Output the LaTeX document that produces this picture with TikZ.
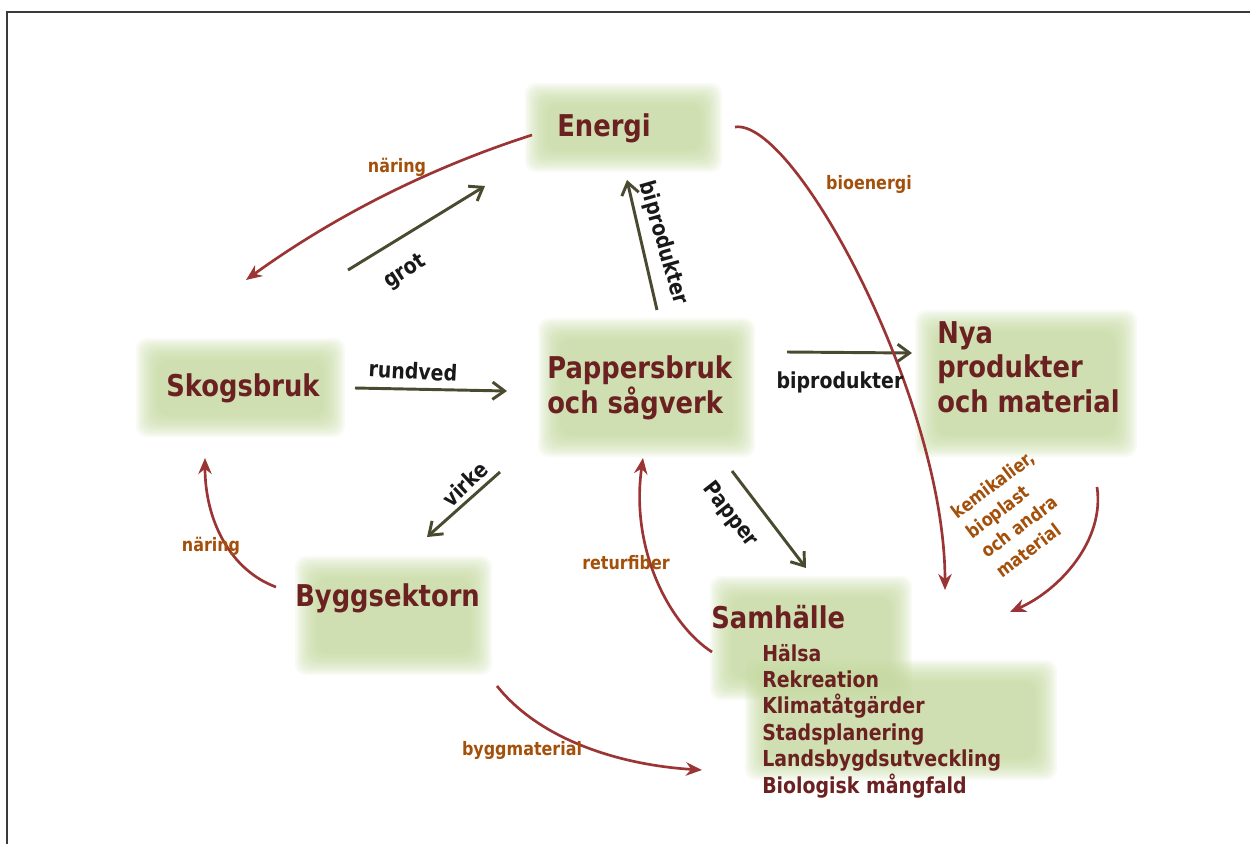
\documentclass[tikz,border=0pt]{standalone}
\usepackage{fontspec}
\setmainfont{DejaVu Sans}[FakeStretch=0.86]
\usetikzlibrary{arrows.meta}

\definecolor{boxtext}{HTML}{6B2121}
\definecolor{flowtext}{HTML}{A3500B}
\definecolor{flowred}{HTML}{9B3434}
\definecolor{olive}{HTML}{4A4A30}
\definecolor{panelgreen}{HTML}{C2D79C}
\definecolor{framegray}{HTML}{3A3A3A}

% soft green panel behind a label
\newcommand{\softpanel}[4]{%
  \foreach \k in {0,...,11}
    \fill[panelgreen,opacity=0.12,rounded corners=8pt] (#1-12+\k*2,#2-12+\k*2) rectangle (#3+12-\k*2,#4+12-\k*2);
}

\tikzset{
  bigtext/.style={text=boxtext,font=\bfseries\fontsize{22.5}{26}\selectfont,inner sep=0pt,align=left},
  listtext/.style={text=boxtext,font=\bfseries\fontsize{16.5}{19.8}\selectfont,inner sep=0pt,align=left},
  flowlabel/.style={text=flowtext,font=\bfseries\fontsize{13.9}{16}\selectfont,inner sep=0pt,align=left},
  steplabel/.style={text=black!90,font=\bfseries\fontsize{16.5}{19}\selectfont,inner sep=0pt},
  redflow/.style={draw=flowred,line width=2pt,-{Stealth[length=12pt,width=10pt]}},
  oliveflow/.style={draw=olive,line width=2.2pt,-{Straight Barb[length=9pt,width=13pt,line width=2.2pt]}}
}

\begin{document}
\begin{tikzpicture}[x=0.75pt,y=0.75pt,yscale=-1,xscale=1]
\useasboundingbox (0,0) rectangle (1250,844);

%Frame
\draw [color=framegray,line width=1.5pt] (7,844) -- (7,12) -- (1250,12) ;

%Panels
\softpanel{537}{95}{710}{160}
\softpanel{148}{350}{333}{425}
\softpanel{550}{330}{743}{445}
\softpanel{927}{322}{1125}{445}
\softpanel{307}{568}{480}{663}
\softpanel{722}{588}{900}{688}
\softpanel{757}{672}{1045}{768}

% Text Node
\node (energi) [bigtext,anchor=west] at (557,128) {Energi};
% Text Node
\node (skog) [bigtext,anchor=west] at (166,388) {Skogsbruk};
% Text Node
\node (bruk) [bigtext,anchor=west] at (547,388) {Pappersbruk\\och sågverk};
% Text Node
\node (nya) [bigtext,anchor=west] at (937,367) {Nya\\produkter\\och material};
% Text Node
\node (bygg) [bigtext,anchor=west] at (295,598) {Byggsektorn};
% Text Node
\node (samh) [bigtext,anchor=west] at (711,617) {Samhälle};
% Text Node
\node (samlist) [listtext,anchor=west] at (762,721) {Hälsa\\Rekreation\\Klimatåtgärder\\Stadsplanering\\Landsbygdsutveckling\\Biologisk mångfald};

%Arrow ends
\coordinate (grotA) at (348,270);
\coordinate (grotB) at (485,186);
\coordinate (rundA) at (355,388);
\coordinate (rundB) at (507,391);
\coordinate (biupA) at (657,310);
\coordinate (biupB) at (627,180);
\coordinate (bihoA) at (787,352);
\coordinate (bihoB) at (912,353);
\coordinate (virkA) at (500,472);
\coordinate (virkB) at (427,537);
\coordinate (papA) at (732,471);
\coordinate (papB) at (806,568);

%Straight Lines
\draw [oliveflow] (grotA) -- (grotB) ;
\draw [oliveflow] (rundA) -- (rundB) ;
\draw [oliveflow] (biupA) -- (biupB) ;
\draw [oliveflow] (bihoA) -- (bihoB) ;
\draw [oliveflow] (virkA) -- (virkB) ;
\draw [oliveflow] (papA) -- (papB) ;

%Curve ends
\coordinate (nar1A) at (532,135);
\coordinate (nar1B) at (246,280);
\coordinate (bioA) at (735,127);
\coordinate (bioB) at (945,590);
\coordinate (kemA) at (1097,487);
\coordinate (kemB) at (1010,612);
\coordinate (retA) at (712,652);
\coordinate (retB) at (643,458);
\coordinate (nar2A) at (276,587);
\coordinate (nar2B) at (205,458);
\coordinate (bygA) at (497,686);
\coordinate (bygB) at (702,770);

%Curve Lines
\draw [redflow] (nar1A) .. controls (429,168) and (333,217) .. (nar1B) ;
\draw [redflow] (bioA) .. controls (795,118) and (945,400) .. (bioB) ;
\draw [redflow] (kemA) .. controls (1105,540) and (1060,590) .. (kemB) ;
\draw [redflow] (retA) .. controls (670,625) and (630,550) .. (retB) ;
\draw [redflow] (nar2A) .. controls (230,570) and (205,520) .. (nar2B) ;
\draw [redflow] (bygA) .. controls (540,740) and (620,765) .. (bygB) ;

% Text Node
\node (grot) [steplabel,rotate=33] at (405,272) {grot};
\node (rund) [steplabel,rotate=-3] at (413,371) {rundved};
\node (biup) [steplabel,rotate=-74] at (663,243) {biprodukter};
\node (biho) [steplabel] at (840,382) {biprodukter};
\node (virke) [steplabel,rotate=43] at (465,484) {virke};
\node (papper) [steplabel,rotate=-52] at (730,515) {Papper};

% Text Node
\node (nar1) [flowlabel] at (397,167) {näring};
\node (bioe) [flowlabel] at (869,184) {bioenergi};
\node (kem) [flowlabel,rotate=37,font=\bfseries\fontsize{13.9}{18.5}\selectfont] at (1015,514) {kemikalier,\\bioplast\\och andra\\material};
\node (retur) [flowlabel] at (626,563) {returfiber};
\node (nar2) [flowlabel] at (211,546) {näring};
\node (bygm) [flowlabel] at (522,750) {byggmaterial};

\end{tikzpicture}
\end{document}
